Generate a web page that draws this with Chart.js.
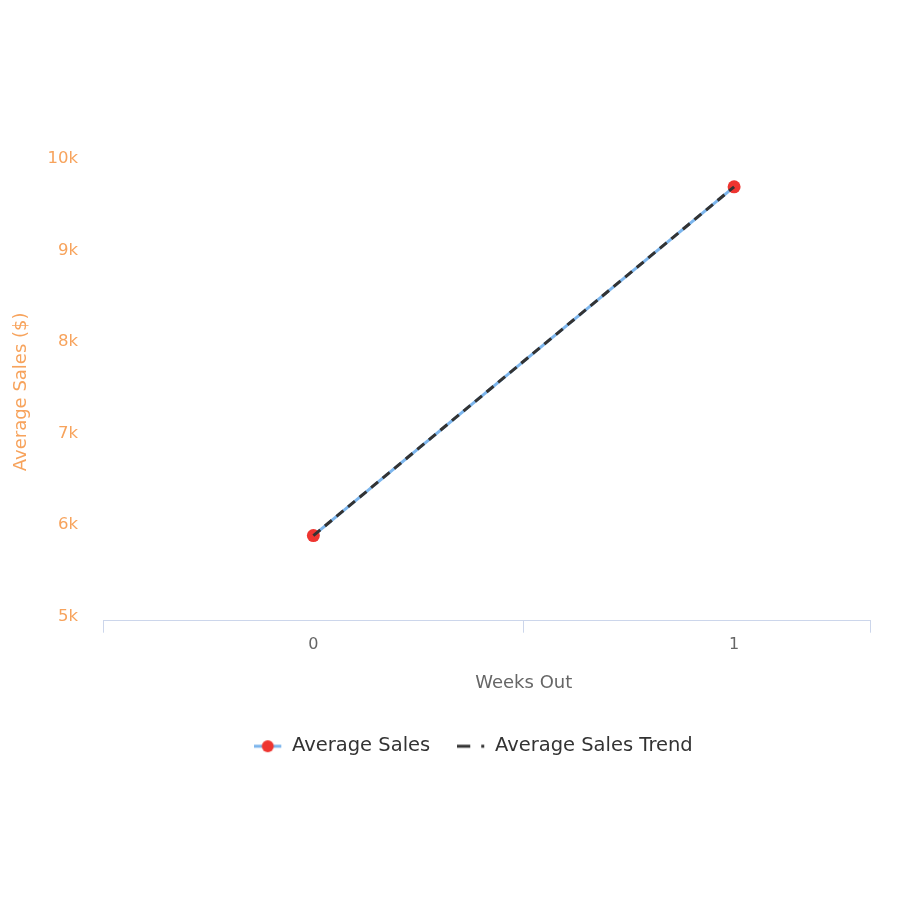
<!DOCTYPE html>
<html>
<head>
<meta charset="utf-8">
<script src="https://cdn.jsdelivr.net/npm/chart.js@4/dist/chart.umd.min.js"></script>
<style>
  html, body { margin: 0; padding: 0; background: #ffffff; }
  #wrap { width: 900px; height: 900px; position: relative; }
</style>
</head>
<body>
<div id="wrap"><canvas id="c" width="900" height="900"></canvas></div>
<script>
// ---- data ----
const weeksOut = [0, 1];
const averageSales = [5930, 9740];
const averageSalesTrend = [5930, 9740];
const seriesNames = ['Average Sales', 'Average Sales Trend'];
const yTickValues = [5000, 6000, 7000, 8000, 9000, 10000];
const xAxisTitle = 'Weeks Out';
const yAxisTitle = 'Average Sales ($)';

// ---- legend symbols ----
function salesSymbol() {
  const c = document.createElement('canvas');
  c.width = 28; c.height = 14;
  const g = c.getContext('2d');
  g.strokeStyle = '#7cb5ec'; g.lineWidth = 3;
  g.beginPath(); g.moveTo(0, 7); g.lineTo(27, 7); g.stroke();
  g.fillStyle = '#ee3530';
  g.beginPath(); g.arc(13.5, 7, 6, 0, Math.PI * 2); g.fill();
  return c;
}
function trendSymbol() {
  const c = document.createElement('canvas');
  c.width = 28; c.height = 14;
  const g = c.getContext('2d');
  g.fillStyle = '#333333';
  g.fillRect(0, 5.5, 13, 3);
  g.fillRect(24, 5.5, 3, 3);
  return c;
}
const symbols = [salesSymbol(), trendSymbol()];

const xTickVals = [-0.5, 0, 0.5, 1, 1.323];
const isLabel = v => weeksOut.some(w => Math.abs(w - v) < 1e-6);

const layoutTweaks = {
  id: 'layoutTweaks',
  afterLayout(chart) {
    if (chart.legend) { chart.legend.left += 36; chart.legend.right += 36; }
    const xs = chart.scales.x;
    if (xs && !xs._titleWrapped) {
      const orig = xs.drawTitle;
      xs.drawTitle = function (...args) {
        const r = this.right;
        const mid = this.getPixelForValue(0.5);
        this.right = 2 * mid - this.left;
        orig.apply(this, args);
        this.right = r;
      };
      xs._titleWrapped = true;
    }
  }
};

new Chart(document.getElementById('c'), {
  type: 'line',
  plugins: [layoutTweaks],
  data: {
    datasets: [
      {
        label: seriesNames[0],
        data: weeksOut.map((w, i) => ({ x: w, y: averageSales[i] })),
        borderColor: '#7cb5ec',
        borderWidth: 3,
        pointRadius: 6.5,
        pointBorderWidth: 0,
        pointBackgroundColor: '#ee3530',
        pointHoverRadius: 6.5,
        fill: false,
        order: 1
      },
      {
        label: seriesNames[1],
        data: weeksOut.map((w, i) => ({ x: w, y: averageSalesTrend[i] })),
        borderColor: '#333333',
        borderWidth: 3,
        borderDash: [9, 6],
        pointRadius: 0,
        fill: false,
        order: 0
      }
    ]
  },
  options: {
    responsive: false,
    animation: false,
    layout: { padding: { top: 163, right: 30, left: 5, bottom: 134 } },
    plugins: {
      tooltip: { enabled: false },
      legend: {
        position: 'bottom',
        labels: {
          usePointStyle: true,
          pointStyleWidth: 28,
          padding: 27,
          color: '#333333',
          font: { family: 'DejaVu Sans', size: 19.5 },
          generateLabels: () => seriesNames.map((n, i) => ({
            text: n,
            pointStyle: symbols[i],
            fillStyle: 'transparent',
            strokeStyle: 'transparent',
            lineWidth: 0,
            fontColor: '#333333',
            hidden: false,
            datasetIndex: i
          }))
        }
      }
    },
    scales: {
      x: {
        type: 'linear',
        min: -0.5,
        max: 1.323,
        afterBuildTicks: axis => { axis.ticks = xTickVals.map(v => ({ value: v })); },
        border: { display: true, color: '#ccd6eb', width: 1 },
        grid: {
          display: true,
          drawOnChartArea: false,
          drawTicks: true,
          tickLength: 12,
          tickWidth: 1,
          tickColor: ctx => (ctx.tick && isLabel(ctx.tick.value)) ? 'rgba(0,0,0,0)' : '#ccd6eb',
          color: '#ccd6eb'
        },
        ticks: {
          autoSkip: false,
          maxRotation: 0,
          padding: 3,
          color: '#666666',
          font: { family: 'DejaVu Sans', size: 16 },
          callback: v => isLabel(v) ? String(Math.round(v)) : ''
        },
        title: {
          display: true,
          text: xAxisTitle,
          color: '#666666',
          font: { family: 'DejaVu Sans', size: 18 },
          padding: { top: 15, bottom: 15 }
        }
      },
      y: {
        min: yTickValues[0],
        max: yTickValues[yTickValues.length - 1],
        afterBuildTicks: axis => { axis.ticks = yTickValues.map(v => ({ value: v })); },
        afterFit: axis => { axis.width = 98; },
        border: { display: false },
        grid: { display: false, drawTicks: false },
        ticks: {
          padding: 25,
          labelOffset: -4,
          color: '#f7a35c',
          font: { family: 'DejaVu Sans', size: 16.5 },
          callback: v => (v / 1000) + 'k'
        },
        title: {
          display: true,
          text: yAxisTitle,
          color: '#f7a35c',
          font: { family: 'DejaVu Sans', size: 18 },
          padding: { top: 6, bottom: 13 }
        }
      }
    }
  }
});
</script>
</body>
</html>
